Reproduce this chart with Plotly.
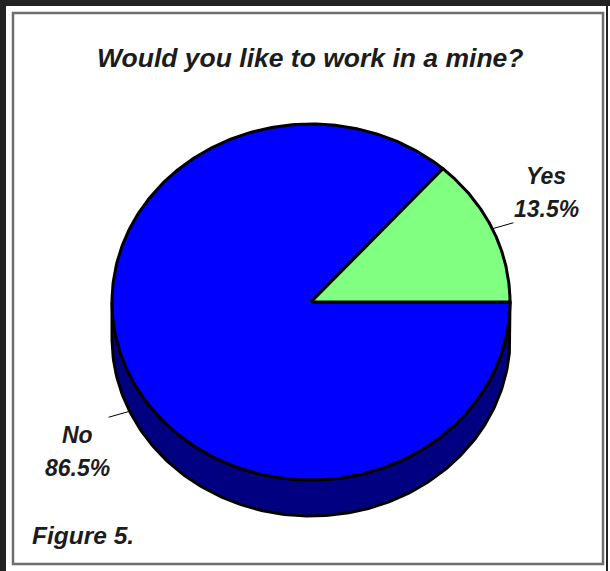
import numpy as np
import plotly.graph_objects as go

# ---- data ----
categories = ["No", "Yes"]
values = [86.5, 13.5]
pct_labels = ["86.5%", "13.5%"]
title_text = "Would you like to work in a mine?"
caption_text = "Figure 5."

# ---- styles / layout ----
top_colors = ["#0000FF", "#80FF80"]
side_colors = ["#000080", "#40A040"]
W, H = 610, 571
CX, CY, RX, RY, DEPTH = 311, 302, 199, 178, 36
START = 0.0  # degrees, 3 o'clock, slices run clockwise
FONT = "Liberation Sans, Arial, sans-serif"
TXT = "#1c1c1c"
EDGE_W = 3
# label placement (per category): text centre x, line-1 y, line-2 y, leader offset
label_pos = {"No": (77, 435, 468, (-21, 6)), "Yes": (546, 176, 209, (21, -6))}


def ell(theta_deg, dy=0.0):
    t = np.radians(theta_deg)
    return CX + RX * np.cos(t), CY - RY * np.sin(t) + dy


fig = go.Figure()

total = float(sum(values))
bounds = []
cum = 0.0
for v in values:
    a_hi = START - 360.0 * cum / total
    cum += v
    a_lo = START - 360.0 * cum / total
    bounds.append((a_lo, a_hi))

# side walls (front, lower half of ellipse)
for (a_lo, a_hi), col in zip(bounds, side_colors):
    for w_lo, w_hi in [(-540, -360), (-180, 0), (180, 360)]:
        lo, hi = max(a_lo, w_lo), min(a_hi, w_hi)
        if hi - lo <= 0.01:
            continue
        th = np.linspace(lo, hi, 200)
        x1, y1 = ell(th)
        x2, y2 = ell(th[::-1], DEPTH)
        xs = np.concatenate([x1, x2, x1[:1]])
        ys = np.concatenate([y1, y2, y1[:1]])
        fig.add_trace(go.Scatter(x=xs, y=ys, mode="lines", fill="toself",
                                 fillcolor=col, line=dict(color="black", width=EDGE_W),
                                 hoverinfo="skip", showlegend=False))

# top faces
for (a_lo, a_hi), col in zip(bounds, top_colors):
    th = np.linspace(a_hi, a_lo, 400)
    xa, ya = ell(th)
    xs = np.concatenate([[CX], xa, [CX]])
    ys = np.concatenate([[CY], ya, [CY]])
    fig.add_trace(go.Scatter(x=xs, y=ys, mode="lines", fill="toself",
                             fillcolor=col, line=dict(color="black", width=EDGE_W),
                             hoverinfo="skip", showlegend=False))

annotations = []
# leader lines and labels
for cat, pl, (a_lo, a_hi) in zip(categories, pct_labels, bounds):
    mid = (a_lo + a_hi) / 2.0
    lower = np.sin(np.radians(mid)) < 0
    sx, sy = ell(mid, DEPTH if lower else 0.0)
    tx, l1, l2, (ox, oy) = label_pos[cat]
    fig.add_trace(go.Scatter(x=[sx, sx + ox], y=[sy, sy + oy], mode="lines",
                             line=dict(color="black", width=1),
                             hoverinfo="skip", showlegend=False))
    for txt, yy in [(cat, l1), (pl, l2)]:
        annotations.append(dict(x=tx, y=yy, xref="x", yref="y", text=txt,
                                showarrow=False, xanchor="center", yanchor="middle",
                                font=dict(family=FONT, size=23, color=TXT,
                                          weight="bold", style="italic")))

annotations.append(dict(x=310, y=58, xref="x", yref="y", text=title_text,
                        showarrow=False, xanchor="center", yanchor="middle",
                        font=dict(family=FONT, size=26.5, color=TXT,
                                  weight="bold", style="italic")))
annotations.append(dict(x=30, y=535, xref="x", yref="y", text=caption_text,
                        showarrow=False, xanchor="left", yanchor="middle",
                        font=dict(family=FONT, size=24.5, color=TXT,
                                  weight="bold", style="italic")))

shapes = [
    dict(type="rect", xref="x", yref="y", x0=0, x1=6, y0=0, y1=H,
         fillcolor="#222222", line=dict(width=0), layer="below"),
    dict(type="rect", xref="x", yref="y", x0=0, x1=W, y0=0, y1=6,
         fillcolor="#222222", line=dict(width=0), layer="below"),
    dict(type="line", xref="x", yref="y", x0=607, x1=607, y0=0, y1=H,
         line=dict(color="#222222", width=2), layer="below"),
    dict(type="rect", xref="x", yref="y", x0=13, x1=603, y0=13, y1=564,
         line=dict(color="#6e6e6e", width=2.5), fillcolor="rgba(0,0,0,0)", layer="below"),
]

fig.update_layout(
    width=W, height=H, autosize=False,
    margin=dict(l=0, r=0, t=0, b=0),
    paper_bgcolor="white", plot_bgcolor="white",
    xaxis=dict(range=[0, W], visible=False, fixedrange=True),
    yaxis=dict(range=[H, 0], visible=False, fixedrange=True),
    annotations=annotations, shapes=shapes, showlegend=False,
)

fig.write_html("out.html", config={"displayModeBar": False},
               post_script="document.body.style.margin='0';document.body.style.overflow='hidden';")
